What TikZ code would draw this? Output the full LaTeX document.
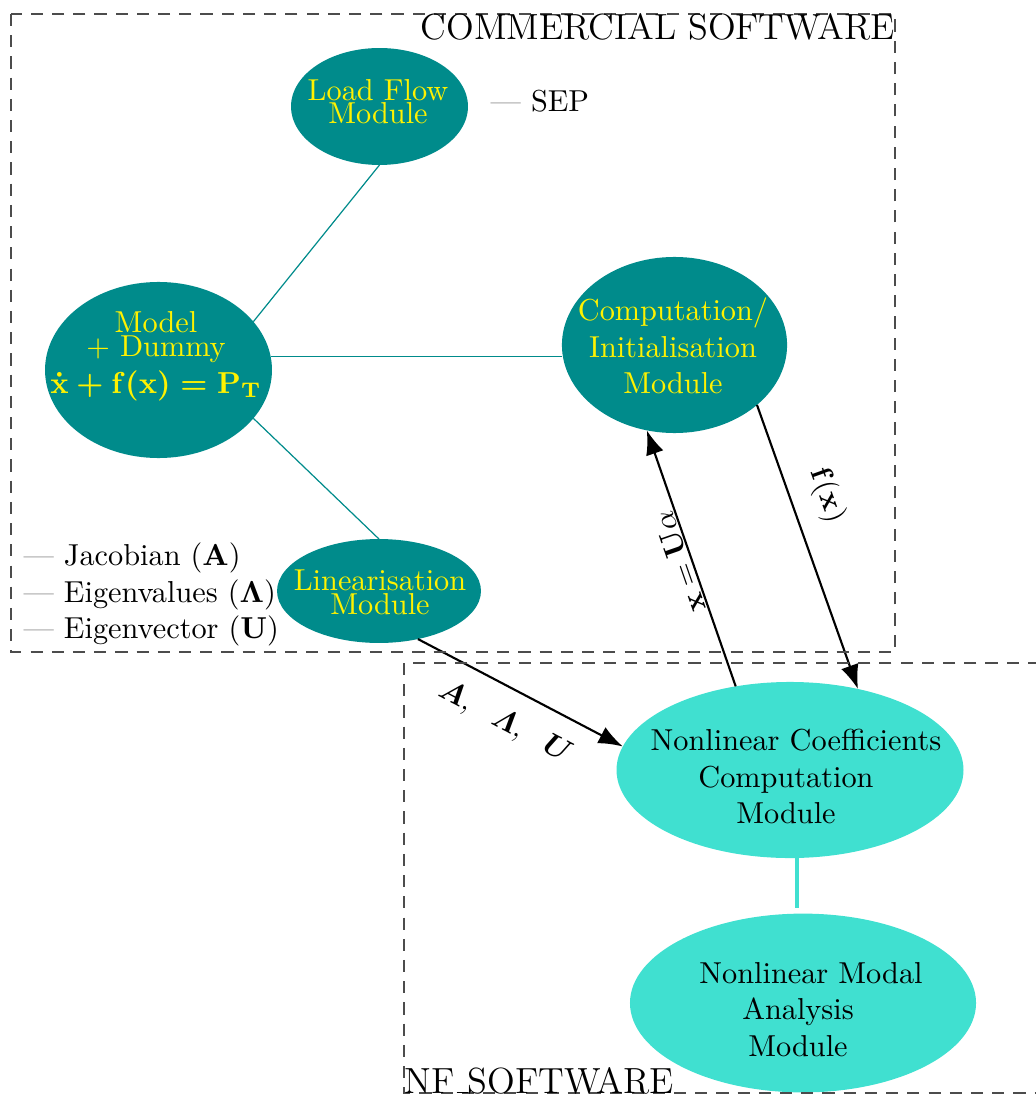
\documentclass[tikz,border=0pt]{standalone}
\usepackage{amsmath}
\usetikzlibrary{shapes.geometric,arrows.meta}
\definecolor{tealdark}{HTML}{008B8B}
\definecolor{turq}{HTML}{40E0D0}
\begin{document}
\begin{tikzpicture}[x=0.33pt,y=-0.33pt,
  darkell/.style={ellipse,fill=tealdark,inner sep=0pt,outer sep=0pt},
  lightell/.style={ellipse,fill=turq,inner sep=0pt,outer sep=0pt},
  ytxt/.style={text=yellow,align=center,inner sep=0pt},
  btxt/.style={text=black,align=center,inner sep=0pt},
  tline/.style={draw=tealdark,line width=0.4pt},
  qline/.style={draw=turq,line width=1.2pt},
  arr/.style={draw=black,line width=0.7pt,-{Latex[length=8pt,width=6pt]}},
  swbox/.style={draw=black!70,line width=0.5pt,dash pattern=on 4pt off 3pt},
  note/.style={anchor=base west,inner sep=0pt,text=black},
  swtitle/.style={inner sep=0pt,font=\large}
]
\useasboundingbox (0,0) rectangle (1036,1095);

% ellipses
\node[darkell,minimum width=58.4pt,minimum height=38.6pt] (lf) at (379.5,106.5) {};
\node[darkell,minimum width=74.9pt,minimum height=58.1pt] (model) at (158.5,370) {};
\node[darkell,minimum width=74.3pt,minimum height=58.1pt] (comp) at (674.5,345) {};
\node[darkell,minimum width=67.3pt,minimum height=34.3pt] (lin) at (379,591) {};
\node[lightell,minimum width=114.5pt,minimum height=58.1pt] (nc) at (790,770) {};
\node[lightell,minimum width=114.2pt,minimum height=59pt] (nm) at (803,1003) {};

% texts in ellipses
\node[ytxt] (lftxt) at (378,101.5) {Load Flow\\[-4.4pt]Module};
\node[ytxt] (modeltxt) at (156,356) {Model\\[-4pt]+ Dummy\\{\boldmath$\dot{\mathbf{x}}+\mathbf{f}(\mathbf{x})=\mathbf{P}_{\mathbf{T}}$}};
\node[ytxt] (comptxt) at (673,346) {Computation/\\Initialisation\\Module};
\node[ytxt] (lintxt) at (380,592.5) {Linearisation\\[-4pt]Module};
\node[btxt] (nctxt) at (786,776.5) {\hspace*{6.6pt}Nonlinear Coefficients\\Computation\\Module};
\node[btxt] (nmtxt) at (798,1009.5) {\hspace*{8.6pt}Nonlinear Modal\\Analysis\hspace*{4pt}\\Module};

% side notes
\node[note] (sep) at (490,112) {\textcolor{black!55}{\textemdash} SEP};
\node[note] (jac) at (23,565) {\textcolor{black!55}{\textemdash} Jacobian ($\mathbf{A}$)};
\node[note] (eval) at (23,602) {\textcolor{black!55}{\textemdash} Eigenvalues ($\mathbf{\Lambda}$)};
\node[note] (evec) at (23,638) {\textcolor{black!55}{\textemdash} Eigenvector ($\mathbf{U}$)};

% teal connectors
\draw[tline] (model.27) -- (lf.south);
\draw[tline] (model.-27) -- (lin.north);
\draw[tline] (model.7) -- (model.7 -| comp.west);

% turquoise connector
\coordinate (lx) at (797,0);
\draw[qline,shorten >=2pt] (nc.south -| lx) -- (nm.north -| lx);

% arrows
\draw[arr] (lin.-51) -- node[pos=0.5,sloped,below=3pt] (lblA) {$\boldsymbol{A},\ \ \boldsymbol{\varLambda},\ \ \boldsymbol{U}$} (nc.172);
\draw[arr] (nc.123) -- node[pos=0.5,sloped,allow upside down,anchor=south,inner sep=0.5pt] (lblx) {$\mathbf{x}=\mathbf{U}\alpha$} (comp.252);
\draw[arr] (comp.-36) -- node[pos=0.36,sloped,above=3pt] (lblf) {$\mathbf{f}(\mathbf{x})$} (nc.50);

% software boxes
\draw[swbox] (11,14) rectangle (895,652);
\draw[swbox] (404,663) rectangle (1045,1093);
\node[swtitle,anchor=north east] (comtitle) at (895,13) {COMMERCIAL SOFTWARE};
\node[swtitle,anchor=base west] (nftitle) at (404,1093) {NF\kern.06em\vbox{\hrule width .3em}SOFTWARE};
\end{tikzpicture}
\end{document}
